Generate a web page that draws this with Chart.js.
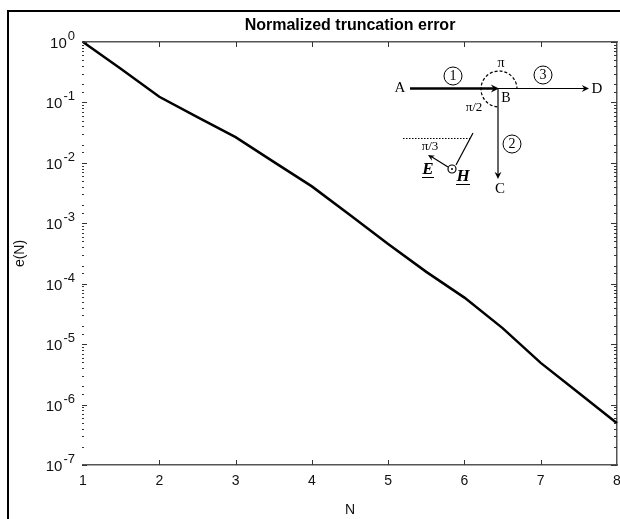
<!DOCTYPE html>
<html>
<head>
<meta charset="utf-8">
<title>Normalized truncation error</title>
<script src="https://cdn.jsdelivr.net/npm/chart.js@4"></script>
<style>
  html, body { margin: 0; background: #fff; overflow: hidden; }
  #frame { position: absolute; left: 7px; top: 10px; width: 800px; height: 800px; border: 2px solid #000; }
  #chart { position: absolute; left: 0; top: 0; }
</style>
</head>
<body>
<div id="frame"></div>
<canvas id="chart" width="620" height="519"></canvas>
<script>
const nValues = [1, 1.5, 2, 2.5, 3, 3.5, 4, 4.5, 5, 5.5, 6, 6.5, 7, 7.5, 8];
const errorValues = [1, 0.357, 0.124, 0.0573, 0.0267, 0.0104, 0.00408, 0.00137, 4.53e-4, 1.57e-4, 5.89e-5, 1.84e-5, 4.9e-6, 1.56e-6, 4.92e-7];
const xTickValues = [1, 2, 3, 4, 5, 6, 7, 8];
const yExponents = [0, -1, -2, -3, -4, -5, -6, -7];

const axisColor = '#555';
const sans = '"Liberation Sans", Arial, sans-serif';
const serif = '"Liberation Serif", "Times New Roman", serif';

function isDecade(v) {
  return Math.abs(Math.log10(v) - Math.round(Math.log10(v))) < 1e-6;
}

// inward tick marks on all four sides, matlab style
const tickMarks = {
  id: 'tickMarks',
  afterDatasetsDraw(chart) {
    const { ctx, chartArea: a, scales } = chart;
    ctx.save();
    ctx.strokeStyle = '#333';
    ctx.lineWidth = 1;
    xTickValues.slice(1, -1).forEach(v => {
      const x = Math.round(scales.x.getPixelForValue(v)) + 0.5;
      ctx.beginPath();
      ctx.moveTo(x, a.top); ctx.lineTo(x, a.top + 5);
      ctx.moveTo(x, a.bottom); ctx.lineTo(x, a.bottom - 5);
      ctx.stroke();
    });
    scales.y.ticks.forEach(t => {
      const y = Math.round(scales.y.getPixelForValue(t.value)) + 0.5;
      const len = isDecade(t.value) ? 5 : 2;
      ctx.beginPath();
      ctx.moveTo(a.left - 1, y); ctx.lineTo(a.left - 1 + len, y);
      ctx.moveTo(a.right, y); ctx.lineTo(a.right - len - 1, y);
      ctx.stroke();
    });
    ctx.restore();
  }
};

// "10" with a raised exponent, the tick callback cannot do superscripts
const decadeLabels = {
  id: 'decadeLabels',
  afterDraw(chart) {
    const { ctx, scales } = chart;
    ctx.save();
    ctx.fillStyle = '#111';
    ctx.textBaseline = 'alphabetic';
    yExponents.forEach(exp => {
      const y = scales.y.getPixelForValue(Math.pow(10, exp));
      const expText = String(exp);
      ctx.font = '13px ' + sans;
      const w = ctx.measureText(expText).width;
      ctx.textAlign = 'left';
      const expX = 75 - w;
      ctx.fillText(expText, expX, y - 2);
      ctx.font = '15px ' + sans;
      ctx.textAlign = 'right';
      ctx.fillText('10', expX - 1, y + 6);
    });
    ctx.restore();
  }
};

function label(ctx, text, x, y, font) {
  ctx.font = font;
  ctx.textAlign = 'center';
  ctx.textBaseline = 'middle';
  ctx.fillText(text, x, y);
}

function arrowHead(ctx, x, y, angle, size) {
  ctx.beginPath();
  ctx.moveTo(x, y);
  ctx.lineTo(x - size * Math.cos(angle - 0.45), y - size * Math.sin(angle - 0.45));
  ctx.lineTo(x - size * 0.6 * Math.cos(angle), y - size * 0.6 * Math.sin(angle));
  ctx.lineTo(x - size * Math.cos(angle + 0.45), y - size * Math.sin(angle + 0.45));
  ctx.closePath();
  ctx.fill();
}

function circled(ctx, text, x, y) {
  ctx.lineWidth = 1;
  ctx.beginPath();
  ctx.arc(x, y, 9, 0, Math.PI * 2);
  ctx.stroke();
  label(ctx, text, x, y + 0.5, '14px ' + serif);
}

// the little path sketch pasted into the top right of the figure
const inset = {
  id: 'inset',
  afterDraw(chart) {
    const ctx = chart.ctx;
    ctx.save();
    ctx.strokeStyle = '#000';
    ctx.fillStyle = '#000';

    ctx.lineWidth = 2.5;
    ctx.beginPath(); ctx.moveTo(410, 88.5); ctx.lineTo(494, 88.5); ctx.stroke();
    arrowHead(ctx, 499, 88.5, 0, 9);

    ctx.lineWidth = 1.2;
    ctx.beginPath(); ctx.moveTo(498, 88.5); ctx.lineTo(586, 88.5); ctx.stroke();
    arrowHead(ctx, 589, 88.5, 0, 8);
    ctx.beginPath(); ctx.moveTo(498, 88.5); ctx.lineTo(498, 176); ctx.stroke();
    arrowHead(ctx, 498, 179, Math.PI / 2, 8);

    // dashed arc for the angles
    ctx.lineWidth = 1.2;
    ctx.setLineDash([3, 2]);
    ctx.beginPath();
    ctx.arc(499, 89, 18, Math.PI * 0.53, Math.PI * 2, false);
    ctx.stroke();
    ctx.setLineDash([1.5, 1.5]);
    ctx.beginPath(); ctx.moveTo(403, 138.5); ctx.lineTo(470, 138.5); ctx.stroke();
    ctx.setLineDash([]);

    ctx.beginPath(); ctx.moveTo(473, 133); ctx.lineTo(456, 165); ctx.stroke();
    ctx.beginPath(); ctx.arc(452, 169, 4, 0, Math.PI * 2); ctx.stroke();
    ctx.beginPath(); ctx.arc(452, 169, 1, 0, Math.PI * 2); ctx.fill();
    ctx.beginPath(); ctx.moveTo(448, 167); ctx.lineTo(432, 157); ctx.stroke();
    arrowHead(ctx, 428, 155, Math.atan2(12, 20) + Math.PI, 7);

    label(ctx, 'A', 400, 88, '15px ' + serif);
    label(ctx, 'B', 506, 98, '14px ' + serif);
    label(ctx, 'C', 500, 189, '15px ' + serif);
    label(ctx, 'D', 597, 89, '15px ' + serif);
    label(ctx, 'π', 501, 63, '14px ' + serif);
    label(ctx, 'π/2', 474, 108, '13px ' + serif);
    label(ctx, 'π/3', 430, 147, '13px ' + serif);
    label(ctx, 'E', 428, 170, 'italic bold 17px ' + serif);
    label(ctx, 'H', 463, 177, 'italic bold 17px ' + serif);
    ctx.lineWidth = 1.2;
    ctx.beginPath();
    ctx.moveTo(422, 177.5); ctx.lineTo(434, 177.5);
    ctx.moveTo(456, 184.5); ctx.lineTo(470, 184.5);
    ctx.stroke();

    circled(ctx, '1', 453, 76);
    circled(ctx, '3', 543, 75);
    circled(ctx, '2', 512, 144);
    ctx.restore();
  }
};

// drop the overhang chart.js reserves for the first and last tick labels
function noOverhang(s) {
  s.paddingLeft = 0;
  s.paddingRight = 0;
  s.paddingTop = 0;
  s.paddingBottom = 0;
}

new Chart(document.getElementById('chart'), {
  type: 'line',
  data: {
    datasets: [{
      data: nValues.map((n, i) => ({ x: n, y: errorValues[i] })),
      borderColor: '#000',
      borderWidth: 2.5,
      pointRadius: 0,
      tension: 0,
      clip: false
    }]
  },
  plugins: [tickMarks, decadeLabels, inset],
  options: {
    responsive: false,
    animation: false,
    layout: { padding: 0 },
    plugins: {
      legend: { display: false },
      tooltip: { enabled: false }
    },
    scales: {
      x: {
        type: 'linear',
        position: 'bottom',
        min: 1,
        max: 8,
        afterFit(s) { s.height = 54; noOverhang(s); },
        grid: { display: false, drawTicks: false },
        border: { color: axisColor, width: 1.5 },
        ticks: {
          stepSize: 1,
          padding: 8,
          color: '#111',
          font: { family: sans, size: 14 },
          maxRotation: 0,
          autoSkip: false
        },
        title: {
          display: true,
          text: 'N',
          color: '#111',
          font: { family: sans, size: 14 },
          padding: { top: 2, bottom: 0 }
        }
      },
      xTop: {
        type: 'linear',
        position: 'top',
        min: 1,
        max: 8,
        afterFit(s) { s.height = 42; noOverhang(s); },
        grid: { display: false, drawTicks: false },
        border: { color: axisColor, width: 1.5 },
        ticks: { display: false },
        title: {
          display: true,
          text: 'Normalized truncation error',
          color: '#000',
          font: { family: sans, size: 16, weight: 'bold' },
          padding: { top: 16, bottom: 0 }
        }
      },
      y: {
        type: 'logarithmic',
        position: 'left',
        min: 1e-7,
        max: 1,
        afterFit(s) { s.width = 83; noOverhang(s); },
        grid: { display: false, drawTicks: false },
        border: { display: false },
        ticks: { autoSkip: false, callback: () => '' },
        title: {
          display: true,
          text: 'e(N)',
          color: '#111',
          font: { family: sans, size: 14 },
          padding: { top: 12, bottom: 0 }
        }
      },
      yRight: {
        type: 'logarithmic',
        position: 'right',
        min: 1e-7,
        max: 1,
        afterFit(s) { s.width = 3; noOverhang(s); },
        grid: { display: false, drawTicks: false },
        border: { color: axisColor, width: 1.5 },
        ticks: { display: false }
      }
    }
  }
});
</script>
</body>
</html>
